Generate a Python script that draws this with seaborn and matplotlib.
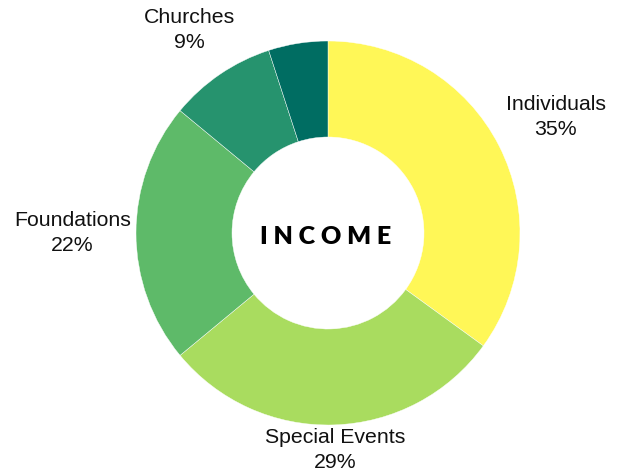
import numpy as np
import matplotlib
matplotlib.use("Agg")
import matplotlib.pyplot as plt
import seaborn as sns

categories = ["Individuals", "Special Events", "Foundations", "Churches", ""]
shares = [35, 29, 22, 9, 5]
colors = ["#FFF757", "#A9DC5F", "#5EBA69", "#26936E", "#006D62"]
label_dist = [1.33, 1.13, 1.33, 1.28, 1.2]

sns.set_theme(style="white")
plt.rcParams["font.family"] = ["Liberation Sans", "DejaVu Sans"]

fig = plt.figure(figsize=(6.21, 4.73), dpi=100)
ax = fig.add_axes([0, 0, 1, 1])

wedges, _ = ax.pie(shares, colors=colors, startangle=90, counterclock=False,
                   radius=1.0, wedgeprops=dict(width=0.5, edgecolor="white", linewidth=0.3))

for w, name, val, d in zip(wedges, categories, shares, label_dist):
    if not name:
        continue
    mid = np.deg2rad((w.theta1 + w.theta2) / 2)
    ax.text(d * np.cos(mid), d * np.sin(mid), f"{name}\n{val}%",
            ha="center", va="center", fontsize=15.3, color="#111111", linespacing=1.38)

ax.text(-0.01, -0.02, "I N C O M E", ha="center", va="center", fontsize=18,
        fontweight="heavy", family=["Lato", "DejaVu Sans"], color="black")

ax.set_aspect("equal")
ax.set_xlim(-328 / 192, (621 - 328) / 192)
ax.set_ylim(-240 / 192, 233 / 192)
ax.axis("off")

fig.savefig("out.png", dpi=100, facecolor="white")
